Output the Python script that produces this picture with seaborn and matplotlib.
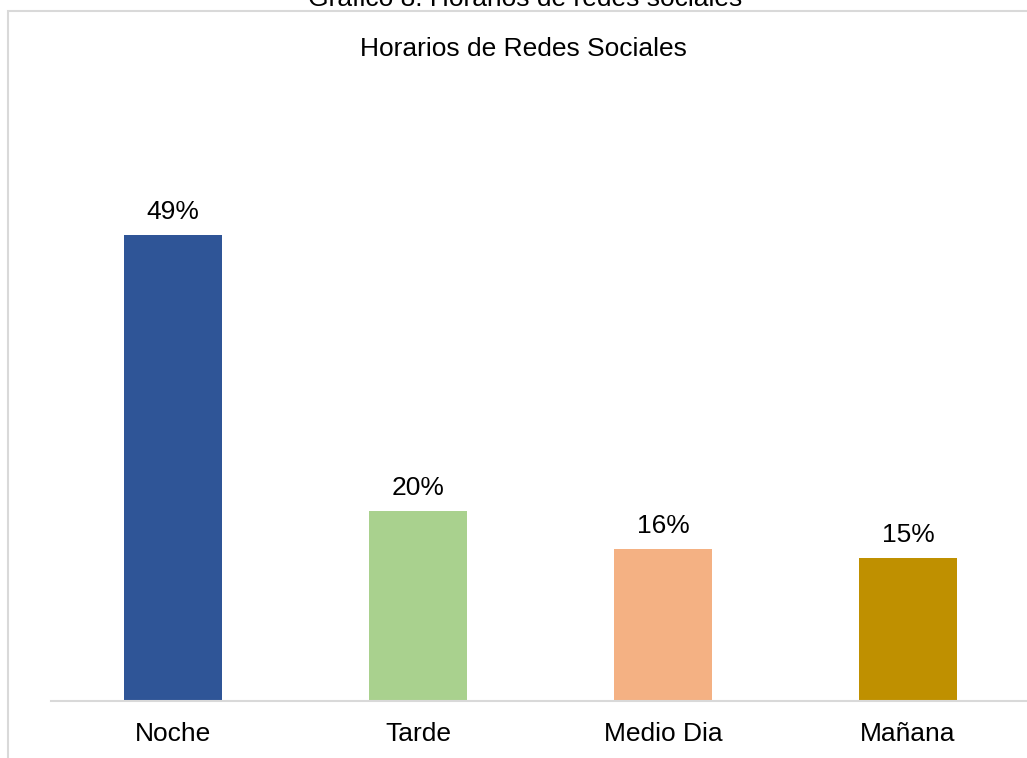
import matplotlib
matplotlib.use("Agg")
import matplotlib.pyplot as plt
from matplotlib.patches import Rectangle
import seaborn as sns
import pandas as pd

# Data
categorias = ["Noche", "Tarde", "Medio Dia", "Mañana"]
porcentajes = [49, 20, 16, 15]
colores = ["#2F5597", "#A9D18E", "#F4B183", "#BF9000"]

titulo_documento = "Gráfico 8: Horarios de redes sociales"
titulo_grafico = "Horarios de Redes Sociales"

sns.set_theme(style="white")
plt.rcParams["font.family"] = ["Liberation Sans", "DejaVu Sans"]

W, H = 1027, 758
fig = plt.figure(figsize=(W / 100, H / 100), dpi=100)
fig.patch.set_facecolor("white")

# Chart frame (light gray border around the chart object)
fig.patches.append(Rectangle((8 / W, -0.1), 1.2, (H - 11) / H + 0.1,
                             transform=fig.transFigure, fill=False,
                             edgecolor="#d9d9d9", linewidth=1.5, zorder=0))

# Plot area in pixel coordinates
left_px, right_px = 50.5, 1030.5
base_px, top_px = 701, 130.4
ax = fig.add_axes([left_px / W, (H - base_px) / H,
                   (right_px - left_px) / W, (base_px - top_px) / H])

df = pd.DataFrame({"categoria": categorias, "porcentaje": porcentajes})
sns.barplot(data=df, x="categoria", y="porcentaje", hue="categoria",
            palette=colores, width=0.4, legend=False, ax=ax,
            saturation=1, linewidth=0, edgecolor="none")

ax.set_ylim(0, 60)
ax.set_xlim(-0.5, len(categorias) - 0.5)
ax.set_xlabel("")
ax.set_ylabel("")
ax.set_yticks([])
for s in ["top", "right", "left"]:
    ax.spines[s].set_visible(False)
ax.spines["bottom"].set_color("#d9d9d9")
ax.spines["bottom"].set_linewidth(1.5)
ax.tick_params(axis="x", length=0, pad=15, labelsize=19, colors="black")
ax.set_facecolor("none")

for cont in ax.containers:
    ax.bar_label(cont, labels=[f"{v:.0f}%" for v in cont.datavalues],
                 padding=8, fontsize=19, color="black")

# Titles (the document caption sits partly above the top edge)
fig.text(525 / W, (H - 5.5) / H, titulo_documento, ha="center",
         va="baseline", fontsize=19, color="black")
fig.text(523.5 / W, (H - 56) / H, titulo_grafico, ha="center",
         va="baseline", fontsize=19, color="black")

fig.savefig("out.png", dpi=100)
